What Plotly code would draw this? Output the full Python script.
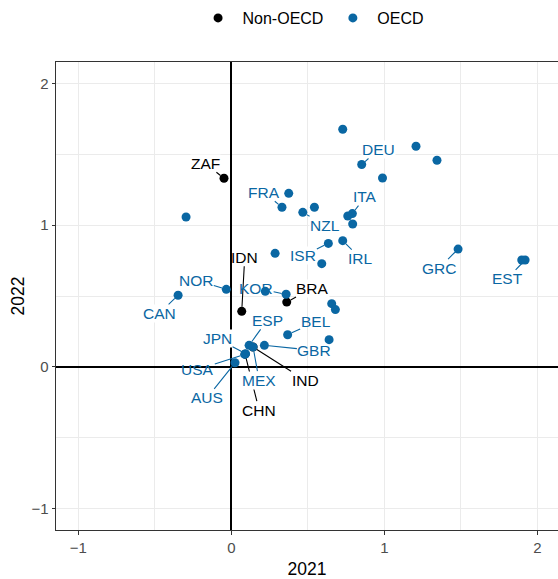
import plotly.graph_objects as go

# Change in the indicator, 2021 (x) versus 2022 (y)
non_oecd_codes = ["ZAF", "IDN", "BRA", "IND", "CHN"]
non_oecd_2021 = [-0.048, 0.068, 0.362, 0.142, 0.090]
non_oecd_2022 = [1.330, 0.392, 0.457, 0.140, 0.090]

oecd_codes = ["DEU", "FRA", "NZL", "ITA", "ISR", "IRL", "GRC", "EST", "NOR", "CAN",
              "KOR", "ESP", "BEL", "JPN", "GBR", "USA", "AUS", "MEX"]
oecd_2021 = [0.852, 0.331, 0.467, 0.791, 0.634, 0.728, 1.482, 1.920, -0.033, -0.348,
             0.358, 0.116, 0.368, 0.093, 0.216, 0.088, 0.024, 0.142]
oecd_2022 = [1.427, 1.126, 1.090, 1.081, 0.871, 0.890, 0.831, 0.754, 0.547, 0.505,
             0.512, 0.152, 0.227, 0.093, 0.152, 0.088, 0.029, 0.140]

# OECD members drawn without a label
oecd_other_2021 = [0.728, 1.207, 1.344, 0.988, 0.375, 0.543, 0.761, 0.793, -0.296,
                   0.286, 0.591, 1.898, 0.222, 0.656, 0.680, 0.639]
oecd_other_2022 = [1.676, 1.556, 1.457, 1.332, 1.224, 1.126, 1.064, 1.008, 1.057,
                   0.801, 0.728, 0.754, 0.533, 0.446, 0.404, 0.192]

# Label placement (pixel offset of the label from its point)
label_offsets = {
    "ZAF": (-19, -15), "IDN": (3, -54), "BRA": (26, -14), "CHN": (14, 56), "IND": (52, 33),
    "DEU": (17, -15), "FRA": (-18, -15), "NZL": (22, 13), "ITA": (13, -17),
    "ISR": (-25, 12), "IRL": (18, 18), "GRC": (-19, 19), "EST": (-18, 19),
    "NOR": (-30, -9), "CAN": (-19, 18), "KOR": (-30, -6), "ESP": (18, -25),
    "BEL": (28, -13), "JPN": (-28, -15), "GBR": (50, 5), "USA": (-47, 15),
    "AUS": (-28, 35), "MEX": (6, 33),
}
# labels drawn without a white box
open_labels = {"USA", "IDN", "KOR", "BEL", "GBR"}

BLUE = "#0A67A3"
BLACK = "#000000"
FONT = "Liberation Sans, Arial, sans-serif"
NBSP = "\u00a0"

fig = go.Figure()
fig.add_trace(go.Scatter(
    x=non_oecd_2021, y=non_oecd_2022, mode="markers", name=NBSP + "Non-OECD" + NBSP,
    marker=dict(color=BLACK, size=9), text=non_oecd_codes,
))
fig.add_trace(go.Scatter(
    x=oecd_2021 + oecd_other_2021, y=oecd_2022 + oecd_other_2022, mode="markers",
    name=NBSP + "OECD", marker=dict(color=BLUE, size=9),
))

annotations = []


def add_label(code, x, y, color):
    ax, ay = label_offsets[code]
    annotations.append(dict(
        x=x, y=y, xref="x", yref="y", text=code, showarrow=True,
        ax=ax, ay=ay, arrowhead=0, arrowwidth=1.1, arrowcolor=color, standoff=4.5,
        font=dict(family=FONT, size=15.5, color=color),
        bgcolor=None if code in open_labels else "white", borderpad=0,
    ))


for c, x, y in zip(non_oecd_codes, non_oecd_2021, non_oecd_2022):
    if c != "IND":
        add_label(c, x, y, BLACK)
for c, x, y in zip(oecd_codes, oecd_2021, oecd_2022):
    add_label(c, x, y, BLUE)
i = non_oecd_codes.index("IND")
add_label("IND", non_oecd_2021[i], non_oecd_2022[i], BLACK)

axis_common = dict(
    dtick=1, tick0=0, ticks="outside", ticklen=3.5, tickwidth=1, tickcolor="#333333",
    showline=True, linecolor="#333333", linewidth=1,
    showgrid=True, gridcolor="#EBEBEB", gridwidth=1.4,
    minor=dict(dtick=0.5, showgrid=True, gridcolor="#EBEBEB", gridwidth=1.2),
    zeroline=True, zerolinecolor="#000000", zerolinewidth=1.5,
    tickfont=dict(family=FONT, size=15, color="#4D4D4D"),
)

fig.update_layout(
    width=558, height=579,
    margin=dict(l=56, r=0, t=62, b=49),
    plot_bgcolor="white", paper_bgcolor="white",
    font=dict(family=FONT, color="black"),
    xaxis=dict(range=[-1.146, 2.135], mirror=True,
               title=dict(text="2021", font=dict(size=17.5, color="black"), standoff=10),
               **axis_common),
    yaxis=dict(range=[-1.15, 2.15],
               title=dict(text="2022", font=dict(size=17.5, color="black"), standoff=2),
               **axis_common),
    legend=dict(orientation="h", x=0.283, xanchor="left", y=1.094, yanchor="middle",
                font=dict(family=FONT, size=16, color="black"), itemwidth=30,
                bgcolor="rgba(0,0,0,0)"),
    annotations=annotations,
)

fig.write_html("out.html")
